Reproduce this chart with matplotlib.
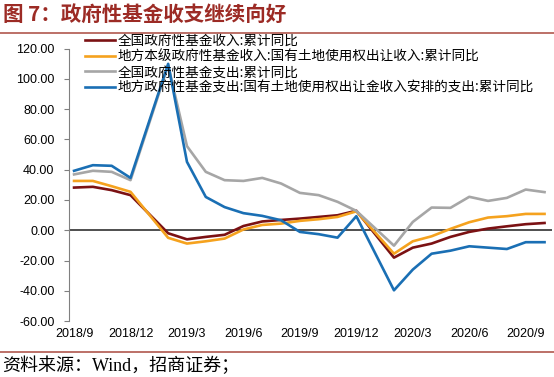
import matplotlib
matplotlib.use('Agg')
import matplotlib.pyplot as plt
from matplotlib.lines import Line2D
import pandas as pd

# Meses com dado (janeiro não é divulgado separadamente)
meses = ['2018-09', '2018-10', '2018-11', '2018-12',
         '2019-02', '2019-03', '2019-04', '2019-05', '2019-06', '2019-07',
         '2019-08', '2019-09', '2019-10', '2019-11', '2019-12',
         '2020-02', '2020-03', '2020-04', '2020-05', '2020-06', '2020-07',
         '2020-08', '2020-09', '2020-10']

receita_nacional = [28.2, 28.7, 26.5, 23.2, -2.0, -6.0, -4.4, -3.0, 2.8, 5.8,
                    6.8, 7.7, 8.8, 9.9, 12.9, -18.1, -11.5, -8.8, -4.4, -1.1,
                    1.1, 2.6, 4.0, 4.8]
receita_terra = [32.6, 32.6, 29.1, 25.4, -5.0, -8.8, -7.3, -5.5, 0.5, 3.5,
                 4.4, 6.2, 7.3, 8.8, 12.5, -15.5, -7.3, -4.0, 0.9, 5.3,
                 8.4, 9.3, 10.8, 10.8]
despesa_nacional = [36.9, 39.3, 38.6, 33.1, 109.0, 55.6, 38.6, 33.1, 32.6, 34.6,
                    30.9, 24.7, 23.2, 18.8, 12.8, -10.2, 5.5, 15.0, 14.8, 22.1,
                    19.4, 21.4, 26.9, 25.2]
despesa_terra = [39.3, 43.0, 42.6, 34.6, 110.0, 45.2, 22.0, 15.3, 11.3, 9.5,
                 6.6, -1.1, -2.6, -4.9, 9.3, -39.7, -26.0, -15.5, -13.5, -10.6,
                 -11.5, -12.4, -7.9, -7.9]

series_nomes = ['全国政府性基金收入:累计同比',
                '地方本级政府性基金收入:国有土地使用权出让收入:累计同比',
                '全国政府性基金支出:累计同比',
                '地方政府性基金支出:国有土地使用权出让金收入安排的支出:累计同比']
cores = ['#7B1113', '#F5A21E', '#A6A6A6', '#1A6FB4']

rotulos_x = ['2018/9', '2018/12', '2019/3', '2019/6', '2019/9', '2019/12',
             '2020/3', '2020/6', '2020/9']

titulo = '图 7：政府性基金收支继续向好'
fonte = '资料来源：Wind，招商证券；'

CJK = ['Noto Sans CJK SC', 'DejaVu Sans']


def meses_desde(inicio, d):
    return (d.year - inicio.year) * 12 + (d.month - inicio.month)


# Eixo de tempo: meses desde o primeiro ponto
datas = pd.to_datetime(meses)
pos = [meses_desde(datas[0], d) for d in datas]
pos_rotulos = [meses_desde(datas[0], pd.to_datetime(r.replace('/', '-')))
               for r in rotulos_x]

fig = plt.figure(figsize=(5.54, 3.77), dpi=100)
ax = fig.add_axes([0.1245, 0.1485, 0.872, 0.7223])

todas = [receita_nacional, receita_terra, despesa_nacional, despesa_terra]
linhas = []
for valores, nome, cor in zip(todas, series_nomes, cores):
    l, = ax.plot(pos, valores, color=cor, linewidth=1.9, label=nome)
    linhas.append(l)

ax.axhline(0, color='#404040', linewidth=1.3, zorder=1)

ax.set_ylim(-60, 120)
ax.set_yticks(range(-60, 121, 20))
ax.set_yticklabels([f'{v:.2f}' for v in range(-60, 121, 20)],
                   fontfamily='Liberation Sans', fontsize=9)
ax.set_xlim(-0.27, 25.4)
ax.set_xticks(pos_rotulos)
ax.set_xticklabels(rotulos_x, fontfamily='Liberation Sans', fontsize=9)
ax.tick_params(axis='x', length=0, pad=5)
ax.tick_params(axis='y', length=3.5, width=0.8, color='#808080', pad=7)

for lado in ['top', 'right', 'bottom']:
    ax.spines[lado].set_visible(False)
ax.spines['left'].set_color('#808080')
ax.spines['left'].set_linewidth(0.8)

fig.legend(handles=linhas, loc='upper left', bbox_to_anchor=(0.153, 0.910),
           frameon=False, prop={'family': CJK, 'size': 9.8},
           handlelength=2.2, handletextpad=0.2, labelspacing=0.12,
           borderpad=0, borderaxespad=0)

# Titulo, linhas separadoras e fonte
fig.text(0.005, 0.962, titulo, fontfamily=CJK, fontsize=14.8,
         fontweight='bold', color='#9C2B25', va='center', ha='left')
fig.add_artist(Line2D([0, 1], [1 - 33 / 377, 1 - 33 / 377],
                      transform=fig.transFigure, color='#B0584E', linewidth=1.2))
fig.add_artist(Line2D([0, 1], [1 - 352 / 377, 1 - 352 / 377],
                      transform=fig.transFigure, color='#B0584E', linewidth=1.2))
fig.text(0.003, 1 - 366 / 377, fonte, fontfamily=['Liberation Serif', 'Noto Sans CJK SC'],
         fontsize=13, va='center', ha='left')

fig.savefig('out.png', dpi=100)
